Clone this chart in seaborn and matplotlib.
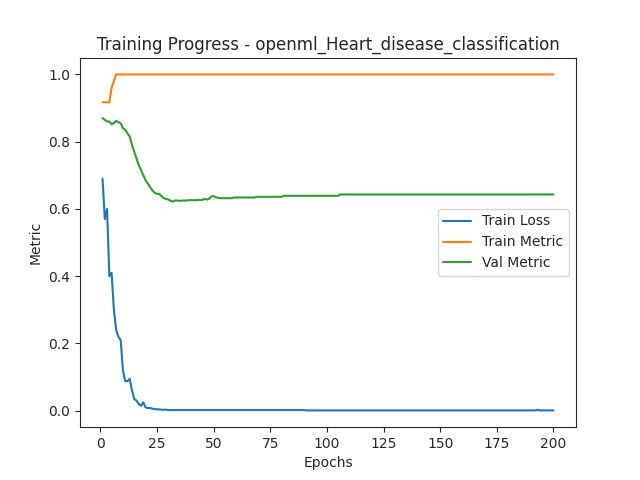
import numpy as np
import pandas as pd
import seaborn as sns
import matplotlib
matplotlib.use("Agg")
import matplotlib.pyplot as plt

# values
loss_head = [0.69, 0.57, 0.60, 0.40, 0.41, 0.30, 0.24, 0.22, 0.21, 0.12,
             0.088, 0.088, 0.095, 0.06, 0.035, 0.03, 0.02, 0.015, 0.025, 0.01,
             0.008, 0.008, 0.006, 0.005, 0.004, 0.004, 0.003, 0.003, 0.003, 0.002]
loss_tail = [0.002] * 60 + [0.001] * 102 + [0.003] + [0.001] * 7

metric_head = [0.917, 0.917, 0.917, 0.917, 0.96, 0.98]
metric_tail = [1.0] * 194

val_head = [0.87, 0.865, 0.86, 0.86, 0.852, 0.855, 0.862, 0.858, 0.855, 0.84,
            0.835, 0.825, 0.815, 0.79, 0.77, 0.75, 0.73, 0.715, 0.70, 0.685,
            0.675, 0.665, 0.655, 0.648, 0.645, 0.645, 0.638, 0.632, 0.630, 0.628,
            0.624, 0.622, 0.625, 0.625, 0.624, 0.625, 0.625, 0.625, 0.626, 0.626,
            0.626, 0.626, 0.626, 0.627, 0.627, 0.630, 0.628, 0.630, 0.637, 0.638,
            0.635, 0.633]
val_tail = [0.632] * 6 + [0.634] * 10 + [0.636] * 12 + [0.639] * 25 + [0.643] * 95

train_loss = loss_head + loss_tail
train_metric = metric_head + metric_tail
val_metric = val_head + val_tail
epochs = list(range(1, 201))

df = pd.DataFrame({"Epochs": epochs * 3,
                   "Metric": train_loss + train_metric + val_metric,
                   "series": ["Train Loss"] * 200 + ["Train Metric"] * 200 + ["Val Metric"] * 200})

sns.set_style("ticks")
plt.rcParams['font.family'] = ['DejaVu Sans']
fig, ax = plt.subplots(figsize=(6.4, 4.8), dpi=100)
sns.lineplot(data=df, x="Epochs", y="Metric", hue="series", ax=ax,
             palette=["#1f77b4", "#ff7f0e", "#2ca02c"], linewidth=1.5)
ax.set_title("Training Progress - openml_Heart_disease_classification")
ax.legend(loc="center right")
for s in ax.spines.values():
    s.set_visible(True)
fig.savefig("out.png", dpi=100)
